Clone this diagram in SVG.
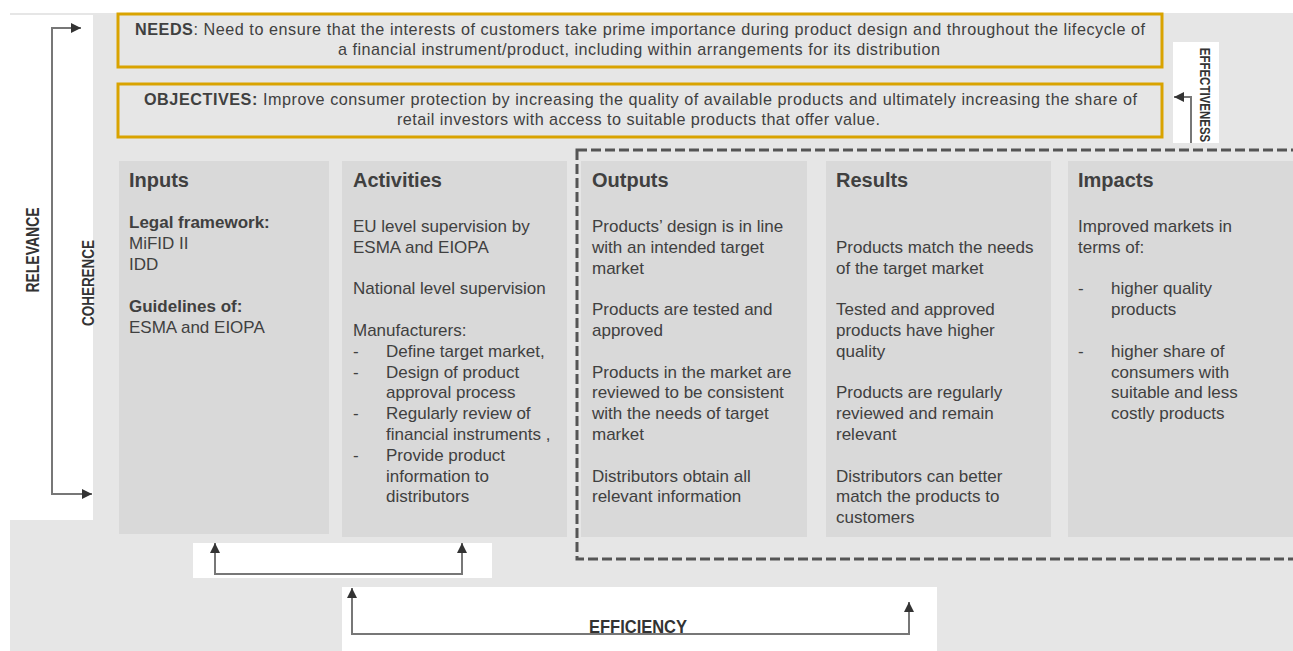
<svg xmlns="http://www.w3.org/2000/svg" width="1293" height="651" viewBox="0 0 1293 651">
<style>
text{font-family:"Liberation Sans",Arial,sans-serif;fill:#404040}
.hd{font-size:20px;font-weight:bold}
.b{font-size:17px}
.bb{font-size:17px;font-weight:bold}
.top{font-size:16.2px}
.lbl{font-weight:bold;fill:#333}
.box{fill:#d9d9d9}
.gold{fill:none;stroke:#d9a300;stroke-width:3}
.wire{fill:none;stroke:#777;stroke-width:2}
</style>
<defs>
<marker id="ah" viewBox="0 0 10 10" refX="10" refY="5" markerWidth="10" markerHeight="10" markerUnits="userSpaceOnUse" orient="auto-start-reverse">
<path d="M0,0 L10,5 L0,10 z" fill="#333"/>
</marker>
</defs>
<rect width="1293" height="651" fill="#fff"/>
<rect x="10" y="13" width="1283" height="638" fill="#e6e6e6"/>
<rect x="10" y="15" width="83" height="505" fill="#fff"/>
<rect x="1173" y="42" width="46" height="101" fill="#fff"/>
<rect x="193" y="543" width="299" height="35" fill="#fff"/>
<rect x="342" y="587" width="595" height="64" fill="#fff"/>

<g id="needs">
<rect class="gold" x="118" y="14" width="1044" height="53"/>
<text class="top" x="135" y="35" textLength="1010" lengthAdjust="spacing"><tspan font-weight="bold">NEEDS</tspan>: Need to ensure that the interests of customers take prime importance during product design and throughout the lifecycle of</text>
<text class="top" x="338" y="55" textLength="602" lengthAdjust="spacing">a financial instrument/product, including within arrangements for its distribution</text>
</g>
<g id="objectives">
<rect class="gold" x="118" y="84" width="1044" height="53"/>
<text class="top" x="144" y="105" textLength="993" lengthAdjust="spacing"><tspan font-weight="bold">OBJECTIVES:</tspan> Improve consumer protection by increasing the quality of available products and ultimately increasing the share of</text>
<text class="top" x="397" y="125" textLength="483" lengthAdjust="spacing">retail investors with access to suitable products that offer value.</text>
</g>

<g id="inputs">
<rect class="box" x="119" y="161" width="210" height="373"/>
<text class="hd" x="129" y="187">Inputs</text>
<text class="bb" x="129" y="228">Legal framework:</text>
<text class="b" x="129" y="249">MiFID II</text>
<text class="b" x="129" y="270">IDD</text>
<text class="bb" x="129" y="312">Guidelines of:</text>
<text class="b" x="129" y="333">ESMA and EIOPA</text>
</g>

<g id="activities">
<rect class="box" x="342" y="161" width="225" height="376"/>
<text class="hd" x="353" y="187">Activities</text>
<text class="b" x="353" y="232">EU level supervision by</text>
<text class="b" x="353" y="253">ESMA and EIOPA</text>
<text class="b" x="353" y="294">National level supervision</text>
<text class="b" x="353" y="336">Manufacturers:</text>
<text class="b" x="353" y="357">-</text>
<text class="b" x="386" y="357">Define target market,</text>
<text class="b" x="353" y="378">-</text>
<text class="b" x="386" y="378">Design of product</text>
<text class="b" x="386" y="398">approval process</text>
<text class="b" x="353" y="419">-</text>
<text class="b" x="386" y="419">Regularly review of</text>
<text class="b" x="386" y="440">financial instruments ,</text>
<text class="b" x="353" y="461">-</text>
<text class="b" x="386" y="461">Provide product</text>
<text class="b" x="386" y="482">information to</text>
<text class="b" x="386" y="502">distributors</text>
</g>

<g id="outputs">
<rect class="box" x="581" y="161" width="226" height="376"/>
<text class="hd" x="592" y="187">Outputs</text>
<text class="b" x="592" y="232">Products’ design is in line</text>
<text class="b" x="592" y="253">with an intended target</text>
<text class="b" x="592" y="274">market</text>
<text class="b" x="592" y="315">Products are tested and</text>
<text class="b" x="592" y="336">approved</text>
<text class="b" x="592" y="378">Products in the market are</text>
<text class="b" x="592" y="398">reviewed to be consistent</text>
<text class="b" x="592" y="419">with the needs of target</text>
<text class="b" x="592" y="440">market</text>
<text class="b" x="592" y="482">Distributors obtain all</text>
<text class="b" x="592" y="502">relevant information</text>
</g>

<g id="results">
<rect class="box" x="826" y="161" width="225" height="376"/>
<text class="hd" x="836" y="187">Results</text>
<text class="b" x="836" y="253">Products match the needs</text>
<text class="b" x="836" y="274">of the target market</text>
<text class="b" x="836" y="315">Tested and approved</text>
<text class="b" x="836" y="336">products have higher</text>
<text class="b" x="836" y="357">quality</text>
<text class="b" x="836" y="398">Products are regularly</text>
<text class="b" x="836" y="419">reviewed and remain</text>
<text class="b" x="836" y="440">relevant</text>
<text class="b" x="836" y="482">Distributors can better</text>
<text class="b" x="836" y="502">match the products to</text>
<text class="b" x="836" y="523">customers</text>
</g>

<g id="impacts">
<rect class="box" x="1068" y="161" width="225" height="376"/>
<text class="hd" x="1078" y="187">Impacts</text>
<text class="b" x="1078" y="232">Improved markets in</text>
<text class="b" x="1078" y="253">terms of:</text>
<text class="b" x="1078" y="294">-</text>
<text class="b" x="1111" y="294">higher quality</text>
<text class="b" x="1111" y="315">products</text>
<text class="b" x="1078" y="357">-</text>
<text class="b" x="1111" y="357">higher share of</text>
<text class="b" x="1111" y="378">consumers with</text>
<text class="b" x="1111" y="398">suitable and less</text>
<text class="b" x="1111" y="419">costly products</text>
</g>

<g id="connectors">
<rect x="577" y="150" width="730" height="409" fill="none" stroke="#555" stroke-width="3" stroke-dasharray="10 4"/>
<path class="wire" d="M81,28 H52 V494 H92" marker-start="url(#ah)" marker-end="url(#ah)"/>
<path class="wire" d="M1191,143 V97 H1174" marker-end="url(#ah)"/>
<path class="wire" d="M215,543 V574 H462 V543" marker-start="url(#ah)" marker-end="url(#ah)"/>
<path class="wire" d="M352,588 V634 H909 V602" marker-start="url(#ah)" marker-end="url(#ah)"/>
<text class="lbl" font-size="14" transform="translate(39,250) rotate(-90) scale(1,1.3)" text-anchor="middle">RELEVANCE</text>
<text class="lbl" font-size="13.5" transform="translate(94,283) rotate(-90) scale(1,1.25)" text-anchor="middle">COHERENCE</text>
<text class="lbl" font-size="11.5" transform="translate(1200,95) rotate(90) scale(1,1.2)" text-anchor="middle">EFFECTIVENESS</text>
<text class="lbl" font-size="16.5" transform="translate(638,633) scale(1,1.1)" text-anchor="middle">EFFICIENCY</text>
</g>
</svg>
